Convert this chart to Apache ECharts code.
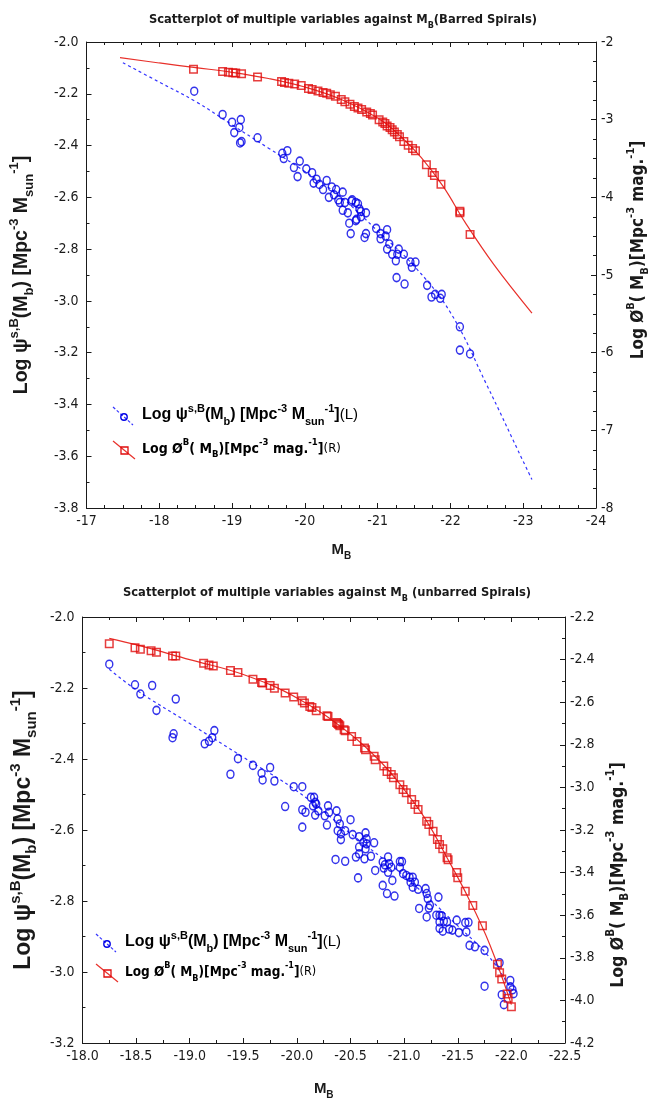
<!DOCTYPE html>
<html><head><meta charset="utf-8">
<script src="https://cdn.jsdelivr.net/npm/echarts@6/dist/echarts.min.js"></script>
<style>html,body{margin:0;padding:0;background:#fff}#c{width:659px;height:1101px}</style>
</head><body><div id="c"></div>
<script>
// ---------- Top chart (Barred Spirals) ----------
const topBlueM = [-18.48,-18.87,-19.00,-19.12,-19.10,-19.03,-19.13,-19.11,-19.35,-19.69,-19.76,-19.71,-19.85,-19.90,-19.93,-20.02,-20.10,-20.12,-20.16,-20.20,-20.25,-20.30,-20.33,-20.37,-20.40,-20.43,-20.46,-20.48,-20.52,-20.55,-20.52,-20.59,-20.61,-20.65,-20.70,-20.70,-20.63,-20.71,-20.64,-20.73,-20.77,-20.84,-20.75,-20.77,-20.82,-20.84,-20.98,-21.04,-21.13,-21.11,-21.04,-21.16,-21.13,-21.29,-21.20,-21.27,-21.36,-21.25,-21.45,-21.52,-21.47,-21.26,-21.37,-21.68,-21.74,-21.79,-21.88,-21.86,-22.13,-22.13,-22.27];
const topBluePsi = [-2.19,-2.28,-2.31,-2.30,-2.33,-2.35,-2.385,-2.39,-2.37,-2.43,-2.42,-2.45,-2.485,-2.52,-2.46,-2.49,-2.505,-2.545,-2.53,-2.55,-2.57,-2.535,-2.60,-2.56,-2.59,-2.57,-2.61,-2.62,-2.58,-2.62,-2.65,-2.66,-2.70,-2.61,-2.62,-2.69,-2.74,-2.685,-2.615,-2.625,-2.655,-2.66,-2.645,-2.675,-2.755,-2.74,-2.72,-2.74,-2.725,-2.75,-2.76,-2.78,-2.80,-2.80,-2.82,-2.82,-2.82,-2.845,-2.85,-2.85,-2.87,-2.91,-2.935,-2.94,-2.985,-2.975,-2.975,-2.99,-3.10,-3.19,-3.205];
const topBlueFitM = [-17.50,-18.0,-18.5,-19.0,-19.5,-20.0,-20.5,-21.0,-21.5,-22.0,-22.5,-23.0,-23.12];
const topBlueFitPsi = [-2.08,-2.155,-2.23,-2.32,-2.41,-2.50,-2.60,-2.73,-2.865,-3.045,-3.325,-3.62,-3.69];
const topRedM = [-18.47,-18.87,-18.95,-19.01,-19.05,-19.13,-19.35,-19.68,-19.72,-19.78,-19.86,-19.95,-20.05,-20.10,-20.18,-20.25,-20.30,-20.35,-20.42,-20.50,-20.55,-20.62,-20.68,-20.73,-20.78,-20.85,-20.90,-20.93,-21.02,-21.07,-21.10,-21.13,-21.17,-21.20,-21.23,-21.27,-21.30,-21.36,-21.42,-21.48,-21.52,-21.67,-21.75,-21.78,-21.87,-22.13,-22.13,-22.27];
const topRedPhi = [-2.35,-2.38,-2.39,-2.395,-2.40,-2.41,-2.45,-2.51,-2.52,-2.53,-2.54,-2.56,-2.60,-2.61,-2.63,-2.65,-2.66,-2.68,-2.70,-2.74,-2.77,-2.80,-2.83,-2.85,-2.87,-2.90,-2.92,-2.94,-3.00,-3.03,-3.05,-3.08,-3.10,-3.13,-3.16,-3.19,-3.22,-3.28,-3.33,-3.37,-3.40,-3.58,-3.68,-3.72,-3.83,-4.20,-4.18,-4.48];
const topRedFitM = [-17.46,-18.0,-18.5,-19.0,-19.5,-20.0,-20.5,-21.0,-21.3,-21.6,-21.9,-22.2,-22.6,-23.12];
const topRedFitPhi = [-2.20,-2.27,-2.33,-2.39,-2.47,-2.58,-2.74,-2.98,-3.20,-3.49,-3.86,-4.32,-4.87,-5.49];

// ---------- Bottom chart (unbarred Spirals) ----------
const botBlueM = [-18.25,-18.49,-18.54,-18.65,-18.69,-18.87,-18.85,-18.84,-19.14,-19.18,-19.21,-19.23,-19.45,-19.59,-19.75,-19.38,-19.67,-19.68,-19.79,-19.89,-19.97,-20.05,-20.05,-20.05,-20.08,-20.13,-20.16,-20.15,-20.17,-20.17,-20.20,-20.26,-20.28,-20.29,-20.30,-20.36,-20.37,-20.38,-20.40,-20.38,-20.41,-20.41,-20.45,-20.45,-20.50,-20.52,-20.55,-20.57,-20.58,-20.58,-20.62,-20.63,-20.18,-20.64,-20.65,-20.65,-20.64,-20.58,-20.69,-20.72,-20.73,-20.80,-20.81,-20.82,-20.85,-20.86,-20.88,-20.85,-20.89,-20.80,-20.84,-20.91,-20.96,-20.98,-20.96,-20.99,-21.02,-21.05,-21.08,-21.06,-21.10,-21.08,-21.13,-21.14,-21.20,-21.21,-21.22,-21.24,-21.23,-21.21,-21.32,-21.30,-21.33,-21.35,-21.33,-21.33,-21.37,-21.40,-21.42,-21.49,-21.57,-21.51,-21.58,-21.36,-21.45,-21.60,-21.61,-21.66,-21.75,-21.75,-21.89,-21.91,-21.93,-21.99,-21.99,-22.02,-22.01];
const botBluePsi = [-2.133,-2.191,-2.217,-2.193,-2.263,-2.231,-2.329,-2.34,-2.357,-2.35,-2.34,-2.32,-2.399,-2.418,-2.424,-2.443,-2.44,-2.459,-2.462,-2.534,-2.478,-2.592,-2.478,-2.543,-2.55,-2.508,-2.508,-2.532,-2.522,-2.558,-2.546,-2.56,-2.586,-2.532,-2.55,-2.683,-2.546,-2.569,-2.583,-2.602,-2.611,-2.627,-2.688,-2.602,-2.571,-2.613,-2.676,-2.735,-2.619,-2.667,-2.635,-2.681,-2.527,-2.608,-2.625,-2.639,-2.653,-2.648,-2.674,-2.636,-2.714,-2.69,-2.707,-2.698,-2.676,-2.695,-2.705,-2.719,-2.742,-2.756,-2.779,-2.786,-2.689,-2.689,-2.705,-2.723,-2.728,-2.733,-2.733,-2.747,-2.747,-2.761,-2.767,-2.821,-2.765,-2.779,-2.793,-2.812,-2.82,-2.845,-2.789,-2.84,-2.84,-2.842,-2.859,-2.877,-2.857,-2.859,-2.879,-2.854,-2.861,-2.889,-2.887,-2.885,-2.882,-2.86,-2.925,-2.929,-2.939,-3.04,-2.974,-3.064,-3.092,-3.024,-3.042,-3.061,-3.05];
const botBlueFitM = [-18.25,-18.5,-19.0,-19.5,-20.0,-20.5,-21.0,-21.5,-21.8,-22.0];
const botBlueFitPsi = [-2.147,-2.205,-2.30,-2.395,-2.49,-2.61,-2.73,-2.87,-2.96,-3.05];
const botRedM = [-18.25,-18.49,-18.54,-18.64,-18.69,-18.84,-18.87,-19.13,-19.18,-19.22,-19.38,-19.45,-19.59,-19.67,-19.68,-19.75,-19.79,-19.89,-19.97,-20.05,-20.07,-20.12,-20.14,-20.18,-20.28,-20.29,-20.37,-20.38,-20.39,-20.40,-20.44,-20.45,-20.51,-20.56,-20.63,-20.64,-20.72,-20.73,-20.81,-20.84,-20.88,-20.90,-20.96,-20.99,-21.02,-21.07,-21.10,-21.13,-21.21,-21.23,-21.27,-21.31,-21.33,-21.36,-21.40,-21.41,-21.49,-21.50,-21.57,-21.64,-21.73,-21.87,-21.89,-21.91,-21.96,-21.97,-22.00];
const botRedPhi = [-2.326,-2.344,-2.351,-2.359,-2.366,-2.383,-2.383,-2.417,-2.425,-2.43,-2.451,-2.461,-2.492,-2.508,-2.51,-2.522,-2.534,-2.557,-2.576,-2.593,-2.604,-2.62,-2.625,-2.64,-2.664,-2.667,-2.695,-2.70,-2.705,-2.71,-2.729,-2.734,-2.761,-2.784,-2.815,-2.823,-2.854,-2.87,-2.90,-2.925,-2.94,-2.955,-2.987,-3.01,-3.025,-3.057,-3.08,-3.104,-3.159,-3.174,-3.206,-3.245,-3.268,-3.288,-3.33,-3.34,-3.40,-3.424,-3.487,-3.554,-3.65,-3.83,-3.87,-3.90,-3.97,-3.99,-4.03];
const botRedFitM = [-18.25,-18.5,-19.0,-19.5,-20.0,-20.5,-20.8,-21.0,-21.2,-21.4,-21.6,-21.8,-22.0];
const botRedFitPhi = [-2.30,-2.33,-2.40,-2.47,-2.58,-2.75,-2.89,-3.01,-3.15,-3.33,-3.52,-3.74,-4.02];

const zip = (a, b) => a.map((v, i) => [v, b[i]]);

const FN = "'Liberation Sans Narrow','Arial Narrow','DejaVu Sans Condensed',sans-serif";
const FA = "'Liberation Sans',Arial,sans-serif";
const INK = '#1a1a1a';
const BLUE = '#0000e6', BLUE_L = '#3434ff', RED = '#e00c0c', RED_L = '#e8302a';

function rich(main, small, fam, color) {
  color = color || INK;
  return {
    n: {fontSize: main, fontWeight: 'bold', fontFamily: fam, color, lineHeight: main + 8},
    p: {fontSize: small, fontWeight: 'bold', fontFamily: fam, color, verticalAlign: 'top'},
    b: {fontSize: small, fontWeight: 'bold', fontFamily: fam, color, verticalAlign: 'bottom'},
    r: {fontSize: main - 1, fontWeight: 'normal', fontFamily: fam, color, lineHeight: main + 8}
  };
}

function xAx(grid, min, max, interval, split, dec, top, gap) {
  return {
    type: 'value', gridIndex: grid, min, max, interval, inverse: true,
    position: top ? 'top' : 'bottom',
    axisLine: {show: true, onZero: false, lineStyle: {color: INK, width: 1}},
    axisTick: {show: true, inside: true, length: 5, lineStyle: {color: INK}},
    minorTick: {show: true, splitNumber: split, length: 3, lineStyle: {color: INK}},
    splitLine: {show: false}, minorSplitLine: {show: false},
    axisLabel: {show: !top, margin: 6, color: INK, fontFamily: FN, fontSize: 14,
      formatter: v => v.toFixed(dec)},
    name: top ? '' : '{n|M}{b|B}', nameLocation: 'middle', nameGap: gap || 30,
    nameTextStyle: {rich: rich(15, 10, FA)}
  };
}
function yAx(grid, min, max, interval, split, dec, right, name, gap, rs, pad) {
  return {
    type: 'value', gridIndex: grid, min, max, interval,
    position: right ? 'right' : 'left',
    axisLine: {show: true, onZero: false, lineStyle: {color: INK, width: 1}},
    axisTick: {show: true, inside: true, length: 5, lineStyle: {color: INK}},
    minorTick: {show: true, splitNumber: split, length: 3, lineStyle: {color: INK}},
    splitLine: {show: false}, minorSplitLine: {show: false},
    axisLabel: {margin: right ? 5 : 8, color: INK, fontFamily: FN, fontSize: 14,
      formatter: v => v.toFixed(dec)},
    name, nameLocation: 'middle', nameRotate: 90, nameGap: gap,
    nameTextStyle: {rich: rs, padding: pad || 0}
  };
}

const leftName = '{n|Log ψ}{p|s,B}{n|(M}{b|b}{n|) [Mpc}{p|-3}{n| M}{b|sun}{p|-1}{n|]}';
const rightName = '{n|Log Ø}{p|B}{n|( M}{b|B}{n|)[Mpc}{p|-3}{n| mag.}{p|-1}{n|]}';
const legPsi = '{n|Log ψ}{p|s,B}{n|(M}{b|b}{n|) [Mpc}{p|-3}{n| M}{b|sun}{p|-1}{n|]}{r|(L)}';
const legPhi = '{n|Log Ø}{p|B}{n|( M}{b|B}{n|)[Mpc}{p|-3}{n| mag.}{p|-1}{n|]}{r|(R)}';

function legend(x, y1, y2, s1, s2) {
  return [
    {type: 'line', shape: {x1: x, y1: y1 - 8, x2: x + 20, y2: y1 + 10}, style: {stroke: BLUE_L, lineWidth: 1.2, lineDash: [3, 2]}},
    {type: 'circle', shape: {cx: x + 11, cy: y1 + 2, r: 3.2}, style: {fill: 'rgba(0,0,0,0)', stroke: BLUE, lineWidth: 1.4}},
    {type: 'text', x: x + 29, y: y1, style: {text: legPsi, rich: rich(s1[0], s1[1], FA), verticalAlign: 'middle', align: 'left'}},
    {type: 'line', shape: {x1: x, y1: y2 - 8, x2: x + 22, y2: y2 + 10}, style: {stroke: RED_L, lineWidth: 1.2}},
    {type: 'rect', shape: {x: x + 8, y: y2 - 2, width: 7, height: 7}, style: {fill: 'rgba(0,0,0,0)', stroke: RED, lineWidth: 1.3}},
    {type: 'text', x: x + 29, y: y2, style: {text: legPhi, rich: rich(s2[0], s2[1], FN), verticalAlign: 'middle', align: 'left'}}
  ];
}

function scat(xi, yi, data, sym, color, size) {
  return {type: 'scatter', xAxisIndex: xi, yAxisIndex: yi, data, symbol: sym, symbolSize: size,
    itemStyle: {color: 'rgba(0,0,0,0)', borderColor: color, borderWidth: 1.5}, z: 4, silent: true};
}
function fit(xi, yi, data, color, dash) {
  return {type: 'line', xAxisIndex: xi, yAxisIndex: yi, data, smooth: 0.4, showSymbol: false,
    lineStyle: {color, width: 1.2, type: dash ? [3, 3] : 'solid'}, z: 3, silent: true};
}

const titleRich = {t: {fontSize: 12.8, fontWeight: 'bold', fontFamily: FN, color: INK, lineHeight: 20},
  s: {fontSize: 9, fontWeight: 'bold', fontFamily: FN, color: INK, verticalAlign: 'bottom'}};

const chart = echarts.init(document.getElementById('c'), null, {renderer: 'canvas'});
chart.setOption({
  animation: false,
  backgroundColor: '#fff',
  title: [
    {text: '{t|Scatterplot of multiple variables against M}{s|B}{t|(Barred Spirals)}', left: 338, top: 5, textAlign: 'center',
      textStyle: {rich: titleRich}},
    {text: '{t|Scatterplot of multiple variables against M}{s|B}{t| (unbarred Spirals)}', left: 322, top: 578, textAlign: 'center',
      textStyle: {rich: titleRich}}
  ],
  grid: [
    {left: 83, top: 42, width: 518, height: 466, show: false},
    {left: 73, top: 617, width: 492, height: 427, show: false}
  ],
  xAxis: [
    xAx(0, -24, -17, 1, 4, 0, false, 30),
    xAx(0, -24, -17, 1, 4, 0, true),
    xAx(1, -22.5, -18, 0.5, 2, 1, false, 34),
    xAx(1, -22.5, -18, 0.5, 2, 1, true)
  ],
  yAxis: [
    yAx(0, -3.8, -2.0, 0.2, 2, 1, false, leftName, 51, rich(19.5, 13, FA)),
    yAx(0, -8, -2, 1, 4, 0, true, rightName, 30, rich(17, 11, FN), [0, 0, 0, 50]),
    yAx(1, -3.2, -2.0, 0.2, 2, 1, false, leftName, 39, rich(23, 15, FA)),
    yAx(1, -4.2, -2.2, 0.2, 2, 1, true, rightName, 40, rich(17.5, 11.5, FN), [0, 90, 0, 0])
  ],
  graphic: legend(113, 415, 449, [16, 11], [14, 9.5]).concat(legend(96, 942, 972, [16, 11], [13.5, 9])),
  series: [
    fit(0, 0, zip(topBlueFitM, topBlueFitPsi), BLUE_L, true),
    scat(0, 0, zip(topBlueM, topBluePsi), 'circle', BLUE, [7, 8]),
    fit(0, 1, zip(topRedFitM, topRedFitPhi), RED_L, false),
    scat(0, 1, zip(topRedM, topRedPhi), 'rect', RED, 7.5),
    fit(2, 2, zip(botBlueFitM, botBlueFitPsi), BLUE_L, true),
    scat(2, 2, zip(botBlueM, botBluePsi), 'circle', BLUE, [7, 8]),
    fit(2, 3, zip(botRedFitM, botRedFitPhi), RED_L, false),
    scat(2, 3, zip(botRedM, botRedPhi), 'rect', RED, 7.5)
  ]
});
</script></body></html>
